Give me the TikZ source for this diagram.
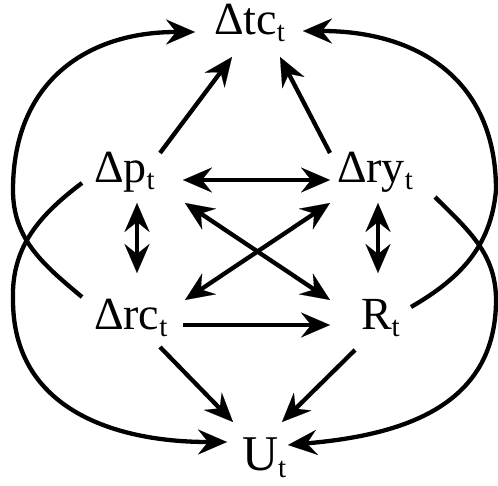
\documentclass[tikz,border=0pt]{standalone}
\usepackage{fontspec}
\setmainfont{Liberation Serif}
\usetikzlibrary{arrows.meta}
\newcommand{\tsub}[1]{\raisebox{-7pt}{\fontsize{29}{29}\selectfont #1}}
\tikzset{
  lab/.style={inner sep=0pt, outer sep=0pt, anchor=base west, font=\fontsize{46}{52}\selectfont},
  >={Stealth[length=29pt,width=25pt,inset=10pt,line width=0.1pt]},
  con/.style={line width=4.3pt},
  loose/.style={looseness=1.15}
}
\begin{document}
\begin{tikzpicture}[x=1pt,y=1pt]
\useasboundingbox (0,0) rectangle (498,485);
\node[lab] (tc) at (214,450) {Δtc\tsub{t}};
\node[lab] (p)  at (94,302)  {Δp\tsub{t}};
\node[lab] (ry) at (337,302) {Δry\tsub{t}};
\node[lab] (rc) at (94,155)  {Δrc\tsub{t}};
\node[lab] (R)  at (361,155) {R\tsub{t}};
\node[lab,font=\fontsize{50}{56}\selectfont] (U) at (242,15) {U\tsub{t}};
\coordinate (L1) at (13,295);
\coordinate (L2) at (13,185);
\coordinate (R1) at (496,295);
\coordinate (R2) at (496,185);
% straight connectors
\draw[con,->] ([shift={(66,30)}]p.base west) -- ([shift={(18,-22)}]tc.base west);
\draw[con,->] ([shift={(-7,30)}]ry.base west) -- ([shift={(66,-22)}]tc.base west);
\draw[con,<->] ([shift={(89,3)}]p.base west) -- ([shift={(-7,3)}]ry.base west);
\draw[con,<->] ([shift={(43,-20)}]p.base west) -- ([shift={(43,57)}]rc.base west);
\draw[con,<->] ([shift={(41,-20)}]ry.base west) -- ([shift={(17,57)}]R.base west);
\draw[con,<->] ([shift={(91,-20)}]p.base west) -- ([shift={(-31,30)}]R.base west);
\draw[con,<->] ([shift={(-7,-20)}]ry.base west) -- ([shift={(91,30)}]rc.base west);
\draw[con,->] ([shift={(89,5)}]rc.base west) -- ([shift={(-31,5)}]R.base west);
\draw[con,->] ([shift={(66,-17)}]rc.base west) -- ([shift={(-9,48)}]U.base west);
\draw[con,->] ([shift={(-6,-20)}]R.base west) -- ([shift={(40,48)}]U.base west);
% outer curves
\draw[con,->] ([shift={(-12,33)}]rc.base west) to[out=140,in=-90] (L1)
  to[out=90,in=180,loose] ([shift={(-19,3)}]tc.base west);
\draw[con,->] ([shift={(-12,0)}]p.base west) to[out=217,in=92] (L2)
  to[out=-90,in=180,looseness=1.1] ([shift={(-15,28)}]U.base west);
\draw[con,->] ([shift={(50,23)}]R.base west) to[out=30,in=-95] (R1)
  to[out=90,in=0,loose] ([shift={(89,4)}]tc.base west);
\draw[con,->] ([shift={(98,-14)}]ry.base west) to[out=-45,in=90] (R2)
  to[out=-90,in=5,looseness=1.1] ([shift={(46,25)}]U.base west);
\end{tikzpicture}
\end{document}
